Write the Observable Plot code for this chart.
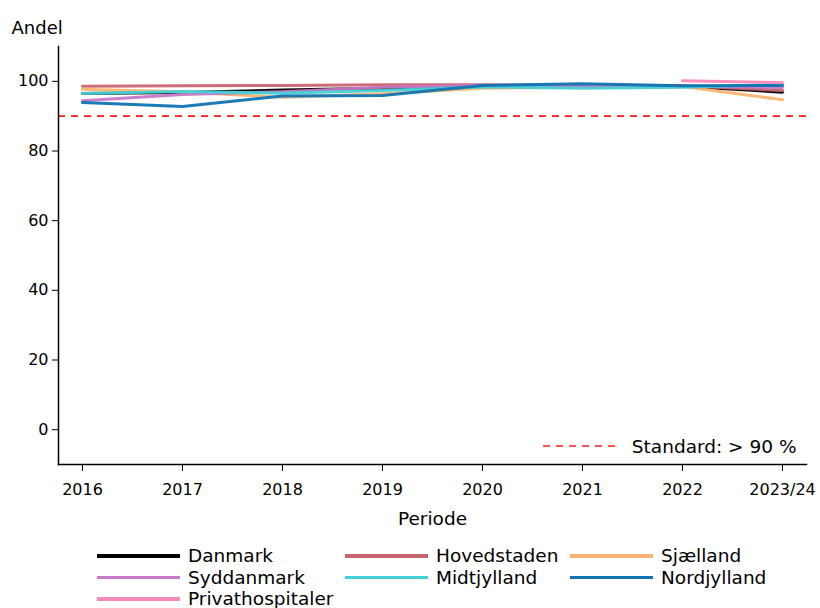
<!DOCTYPE html>
<html><head><meta charset="utf-8">
<script src="https://cdn.jsdelivr.net/npm/d3@7"></script>
<script src="https://cdn.jsdelivr.net/npm/@observablehq/plot@0.6"></script>
<style>
body{margin:0;background:#fff;font-family:"DejaVu Sans",sans-serif;}
#wrap{position:relative;width:820px;height:608px;}
#legend{position:absolute;left:97px;top:545px;display:grid;grid-template-columns:248px 225px 200px;row-gap:0px;font-size:18.5px;color:#000;}
.item{display:flex;align-items:center;height:21.5px;}
.sw{width:83px;height:3.5px;margin-right:8px;}
</style></head>
<body><div id="wrap"><div id="chart"></div><div id="legend"></div></div>
<script>
const periods = ["2016","2017","2018","2019","2020","2021","2022","2023/24"];
const seriesNames = ["Danmark","Hovedstaden","Sjælland","Syddanmark","Midtjylland","Nordjylland","Privathospitaler"];
const seriesColors = ["#000000","#c8646f","#fdb36f","#c878c8","#44d1d6","#0f74b3","#f78ab8"];
const danmark      = [96.5, 96.8, 97.5, 98.0, 98.6, 98.6, 98.6, 96.9];
const hovedstaden  = [98.6, 98.7, 98.8, 99.0, 99.0, 98.8, 98.7, 97.4];
const sjaelland    = [97.7, 97.0, 95.4, 96.4, 98.0, 98.4, 98.5, 94.7];
const syddanmark   = [94.4, 96.2, 97.0, 98.3, 98.8, 98.5, 98.6, 98.2];
const midtjylland  = [96.5, 97.1, 96.6, 97.4, 98.4, 98.0, 98.3, 99.1];
const nordjylland  = [93.9, 92.8, 95.8, 95.9, 98.8, 99.3, 98.7, 98.8];
const privathosp   = [null, null, null, null, null, null, 100.2, 99.6];
const standardValue = 90;
const standardLabel = "Standard: > 90 %";
const yTicks = [0,20,40,60,80,100];

const allValues = [danmark,hovedstaden,sjaelland,syddanmark,midtjylland,nordjylland,privathosp];
const rows = [];
seriesNames.forEach((s,i)=>periods.forEach((p,j)=>{ if(allValues[i][j]!=null) rows.push({serie:s,periode:p,andel:allValues[i][j]}); }));

const chart = Plot.plot({
  width: 820, height: 535,
  marginLeft: 58, marginRight: 14, marginTop: 46, marginBottom: 71,
  style:{fontFamily:"DejaVu Sans, sans-serif", fontSize:"15px", color:"#000", background:"#fff"},
  x:{type:"point", domain:periods, padding:0.214, label:null},
  y:{domain:[-10,110], label:null},
  color:{domain:seriesNames, range:seriesColors},
  marks:[
    Plot.ruleY([standardValue],{stroke:"#ff1a1a", strokeWidth:1.6, strokeDasharray:"7,6"}),
    Plot.line(rows,{x:"periode", y:"andel", z:"serie", stroke:"serie", strokeWidth:3, strokeOpacity:0.95}),
    Plot.axisY(yTicks,{tickSize:6, tickPadding:4, fontSize:16, label:null}),
    Plot.axisX({tickSize:7, tickPadding:12, fontSize:16, label:null}),
    Plot.frame({anchor:"left", stroke:"#000", strokeWidth:1.5}),
    Plot.frame({anchor:"bottom", stroke:"#000", strokeWidth:1.5}),
    Plot.text(["Andel"],{frameAnchor:"top-left", dx:-47, dy:-25, textAnchor:"start", fontSize:18}),
    Plot.text(["Periode"],{frameAnchor:"bottom", dy:60, fontSize:18.5}),
    Plot.text([standardLabel],{frameAnchor:"bottom-right", dx:-10, dy:-12, textAnchor:"end", fontSize:18.5})
  ]
});
document.getElementById("chart").appendChild(chart);

// standard legend dashed line inside plot
const svg = d3.select(chart);
svg.append("line").attr("x1",543).attr("x2",621).attr("y1",446).attr("y2",446)
  .attr("stroke","#ff1a1a").attr("stroke-width",1.6).attr("stroke-dasharray","7,6");

const lg = document.getElementById("legend");
seriesNames.forEach((s,i)=>{
  const d=document.createElement("div"); d.className="item";
  d.innerHTML=`<span class="sw" style="background:${seriesColors[i]}"></span><span>${s}</span>`;
  lg.appendChild(d);
});
</script></body></html>
